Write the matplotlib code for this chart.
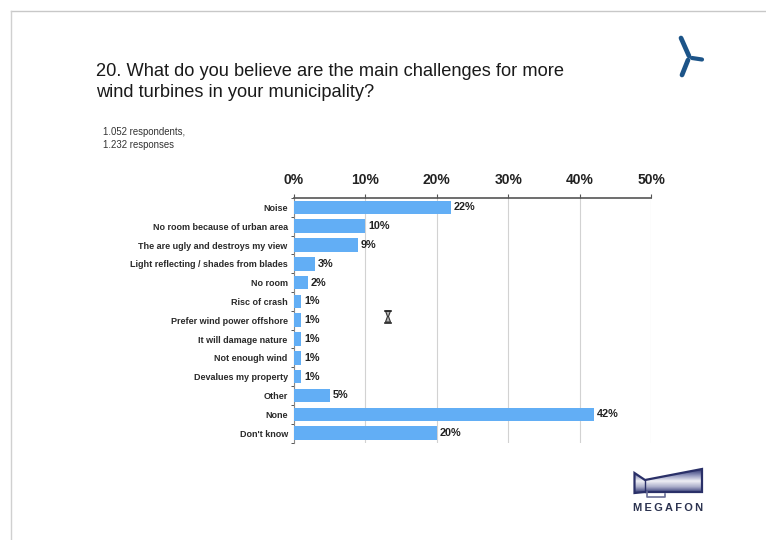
import numpy as np
import matplotlib
matplotlib.use("Agg")
import matplotlib.pyplot as plt
from matplotlib.patches import Polygon
from matplotlib.colors import LinearSegmentedColormap

categories = [
    "Noise", "No room because of urban area", "The are ugly and destroys my view",
    "Light reflecting / shades from blades", "No room", "Risc of crash",
    "Prefer wind power offshore", "It will damage nature", "Not enough wind",
    "Devalues my property", "Other", "None", "Don't know",
]
shares = [22, 10, 9, 3, 2, 1, 1, 1, 1, 1, 5, 42, 20]
ticks = [0, 10, 20, 30, 40, 50]
title_lines = ["20. What do you believe are the main challenges for more",
               "wind turbines in your municipality?"]
note_lines = ["1.052 respondents,", "1.232 responses"]

W, H = 766, 540
plt.rcParams["font.family"] = ["Liberation Sans", "DejaVu Sans"]
fig = plt.figure(figsize=(W / 100, H / 100), dpi=100, facecolor="white")

# Overlay in pixel coordinates for the slide frame, logos and headings
page = fig.add_axes([0, 0, 1, 1])
page.set_xlim(0, W)
page.set_ylim(H, 0)
page.axis("off")

page.plot([10.5, 766], [10.5, 10.5], color="#c8c8c8", lw=1.0)
page.plot([10.5, 10.5], [10.5, 540], color="#d0d0d0", lw=1.0)

page.text(96, 72, title_lines[0], fontsize=13.15, color="#1a1a1a", va="center")
page.text(96, 92.5, title_lines[1], fontsize=13.15, color="#1a1a1a", va="center")
page.text(103, 132, note_lines[0], fontsize=6.9, color="#333333", va="center")
page.text(103, 145, note_lines[1], fontsize=6.9, color="#333333", va="center")

# Turbine mark
for start, tip, width in [((689, 56), (681, 38), 3.4),
                          ((692, 58), (702, 59.5), 3.0),
                          ((688, 60), (682, 75), 3.4)]:
    page.plot([start[0], tip[0]], [start[1], tip[1]], color="#1c5488", lw=width,
              solid_capstyle="round")

# Megaphone mark with a vertical metallic gradient
horn = LinearSegmentedColormap.from_list(
    "horn", ["#2d3470", "#8f94bb", "#f0f0f6", "#a9acc9", "#2d3470"])
outline = [(634.5, 473), (645, 480), (702, 469), (702, 492), (645, 492), (634.5, 493)]
shape = Polygon(outline, closed=True, facecolor="none", edgecolor="#2a3068",
                lw=1.6, zorder=3)
page.add_patch(shape)
img = page.imshow(np.linspace(0, 1, 64)[:, None], cmap=horn, aspect="auto",
                  extent=(634, 702, 493, 469), zorder=2)
img.set_clip_path(shape)
page.plot([645, 645], [480, 492], color="#2a3068", lw=1.0, zorder=3)
page.plot([647, 647, 665, 665], [492, 496.5, 496.5, 494], color="#6a6f96", lw=1.2, zorder=3)
page.set_xlim(0, W)
page.set_ylim(H, 0)
page.text(668.5, 508, "\u2009".join("MEGAFON"), fontsize=7.9, fontweight="bold",
          color="#2c3350", ha="center", va="center")

# Busy cursor left on the slide
page.plot([385, 391], [310.5, 310.5], color="#222222", lw=1.2)
page.plot([385, 391], [322.5, 322.5], color="#222222", lw=1.2)
page.add_patch(Polygon([(385.5, 311), (390.5, 311), (388.5, 316.5), (390.5, 322),
                        (385.5, 322), (387.5, 316.5)], closed=True, facecolor="#b5b5b5",
                       edgecolor="#333333", lw=0.8))

# Bar chart
left, right, top, bottom = 294, 651, 198, 442.5
ax = fig.add_axes([left / W, 1 - bottom / H, (right - left) / W, (bottom - top) / H])
ax.patch.set_alpha(0)
pos = np.arange(len(categories))
ax.barh(pos, shares, height=0.72, color="#62aef5", zorder=3)
ax.set_xlim(0, 50)
ax.set_ylim(len(categories) - 0.5, -0.5)

ax.xaxis.tick_top()
ax.set_xticks(ticks)
ax.set_xticklabels([f"{t}%" for t in ticks], fontsize=10, fontweight="bold",
                   color="#222222")
ax.tick_params(axis="x", length=3, width=0.8, color="#555555", pad=5)
ax.xaxis.grid(True, color="#d2d2d2", lw=0.8, zorder=0)

ax.set_yticks(pos)
ax.set_yticklabels(categories, fontsize=6.5, fontweight="bold", color="#2a2a2a")
ax.set_yticks(np.arange(len(categories) + 1) - 0.5, minor=True)
ax.tick_params(axis="y", which="major", length=0, pad=4.5)
ax.tick_params(axis="y", which="minor", length=2.5, width=0.7, color="#555555")

for side in ("right", "bottom"):
    ax.spines[side].set_visible(False)
ax.spines["top"].set_color("#555555")
ax.spines["top"].set_linewidth(1.2)
ax.spines["left"].set_color("#888888")
ax.spines["left"].set_linewidth(0.8)

for y, v in zip(pos, shares):
    ax.annotate(f"{v}%", (v, y), xytext=(2, 0), textcoords="offset points",
                va="center", fontsize=7.8, fontweight="bold", color="#222222", zorder=4)

fig.savefig("out.png", dpi=100)
